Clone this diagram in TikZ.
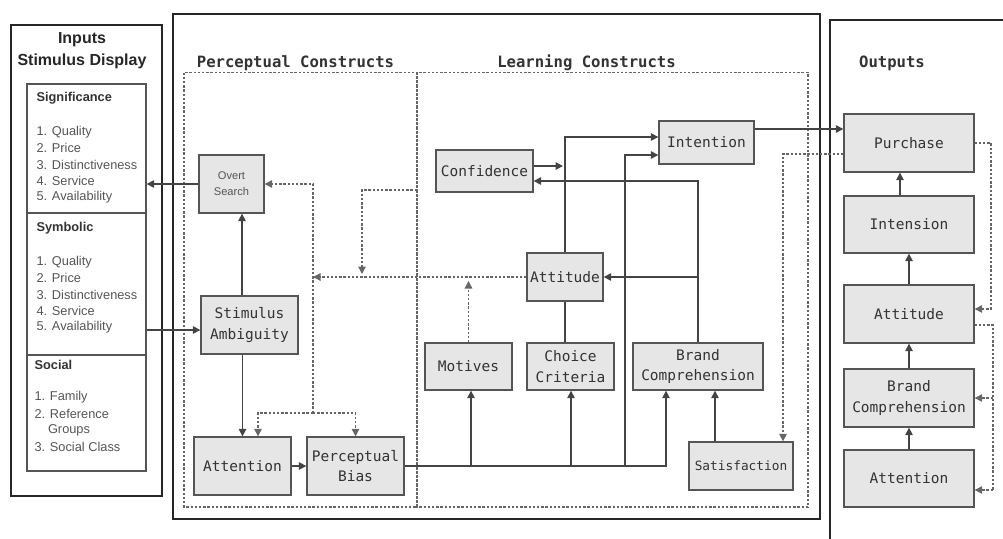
\documentclass[tikz,border=0pt]{standalone}
\usepackage{fontspec}
\setmainfont{Liberation Sans}
\newfontfamily\monof{DejaVu Sans Mono}
\usetikzlibrary{arrows.meta,calc}
\definecolor{boxfill}{HTML}{E6E6E6}
\definecolor{boxline}{HTML}{555555}
\definecolor{txt}{HTML}{333333}
\definecolor{itemtxt}{HTML}{555555}
\definecolor{lin}{HTML}{444444}
\definecolor{dotc}{HTML}{666666}
\begin{document}
\begin{tikzpicture}[x=1pt,y=-1pt,
  box/.style={draw=boxline, fill=boxfill, line width=1.3pt, inner sep=0pt, align=center, text=txt,
    font=\monof\fontsize{14.5}{20.5}\selectfont},
  obox/.style={box, minimum width=130pt},
  arr/.style={draw=lin, line width=1.4pt, -{Triangle[length=7.5pt,width=7.5pt]}},
  ln/.style={draw=lin, line width=1.4pt},
  dotl/.style={draw=dotc, line width=1.2pt, dash pattern=on 2.4pt off 1.8pt},
  darr/.style={dotl, -{Triangle[length=7.5pt,width=7.5pt]}},
  frame/.style={draw=black!85, line width=2pt},
  sechead/.style={anchor=base, text=txt, font=\monof\bfseries\fontsize{15.6}{18}\selectfont},
  ihead/.style={anchor=west, text=txt, font=\bfseries\fontsize{12.8}{15}\selectfont},
  item/.style={anchor=west, text=itemtxt, font=\fontsize{12.8}{15}\selectfont},
  ititle/.style={text=black!85, font=\bfseries\fontsize{16}{19}\selectfont}
]
\useasboundingbox (0,0) rectangle (1003,538);

% ---------- frames ----------
\node[frame, minimum width=151.3pt, minimum height=471pt, inner sep=0pt] (inputs) at (86.35,260.5) {};
\node[draw=boxline, line width=1.3pt, minimum width=119pt, minimum height=387pt, inner sep=0pt] (inner) at (86.5,277.5) {};
\draw[draw=boxline, line width=1.3pt] (inner.west |- 0,213) -- (inner.east |- 0,213);
\draw[draw=boxline, line width=1.3pt] (inner.west |- 0,355) -- (inner.east |- 0,355);
\draw[frame] (172.5,14) rectangle (819.5,518.5);
\draw[frame] (1006,20) -- (829.5,20) -- (829.5,545);
\draw[dotl] (184,72.5) rectangle (417,507);
\draw[dotl] (417,72.5) rectangle (808,507);

% ---------- headings ----------
\node[ititle] (tin) at (82,40) {Inputs};
\node[ititle] (tsd) at (82,61) {Stimulus Display};
\node[sechead] (hp) at (295.5,67.5) {Perceptual Constructs};
\node[sechead] (hl) at (586.5,67.5) {Learning Constructs};
\node[sechead] (ho) at (892,67.5) {Outputs};

% ---------- inputs lists ----------
\node[ihead] (sig) at (33,98) {Significance};
\node[item] (s1) at (33,132) {1. Quality};
\node[item] (s2) at (33,148.3) {2. Price};
\node[item] (s3) at (33,164.6) {3. Distinctiveness};
\node[item] (s4) at (33,180.9) {4. Service};
\node[item] (s5) at (33,197.2) {5. Availability};
\node[ihead] (sym) at (33,228) {Symbolic};
\node[item] (y1) at (33,262) {1. Quality};
\node[item] (y2) at (33,278.3) {2. Price};
\node[item] (y3) at (33,294.6) {3. Distinctiveness};
\node[item] (y4) at (33,310.9) {4. Service};
\node[item] (y5) at (33,327.2) {5. Availability};
\node[ihead] (soc) at (31,365) {Social};
\node[item] (c1) at (31,397) {1. Family};
\node[item] (c2) at (31,413.5) {2. Reference};
\node[item] (c2b) at (44.5,430) {Groups};
\node[item] (c3) at (31,446.5) {3. Social Class};

% ---------- perceptual nodes ----------
\node[box, minimum width=65pt, minimum height=58pt, text=itemtxt,
      font=\fontsize{11.1}{16}\selectfont] (overt) at (231.5,184) {Overt\\Search};
\node[box, minimum width=97pt, minimum height=58pt] (stim) at (249.5,325) {Stimulus\\Ambiguity};
\node[box, minimum width=97pt, minimum height=58pt] (att1) at (242.5,466) {Attention};
\node[box, minimum width=97pt, minimum height=58pt] (pbias) at (355.5,466) {Perceptual\\Bias};

% ---------- learning nodes ----------
\node[box, minimum width=97pt, minimum height=42pt] (conf) at (484.5,171) {Confidence};
\node[box, minimum width=95pt, minimum height=43pt] (intent) at (706.5,142.5) {Intention};
\node[box, minimum width=76pt, minimum height=48pt] (att2) at (565,277) {Attitude};
\node[box, minimum width=87pt, minimum height=47pt] (motives) at (468.5,366.5) {Motives};
\node[box, minimum width=87pt, minimum height=47pt] (choice) at (570.5,366.5) {Choice\\Criteria};
\node[box, minimum width=130pt, minimum height=47pt] (brand) at (698,366.5) {Brand\\Comprehension};
\node[box, minimum width=104pt, minimum height=48pt,
      font=\monof\fontsize{12.8}{16}\selectfont] (satis) at (741,466) {Satisfaction};

% ---------- output nodes ----------
\node[obox, minimum height=58pt] (purchase) at (909,143) {Purchase};
\node[obox, minimum height=57pt] (intension) at (909,224.5) {Intension};
\node[obox, minimum height=58pt] (oatt) at (909,314) {Attitude};
\node[obox, minimum height=58pt] (obrand) at (909,398) {Brand\\Comprehension};
\node[obox, minimum height=57pt] (oattn) at (909,478.5) {Attention};

% ---------- solid connectors ----------
\draw[arr] (overt.west) -- (overt.west -| inner.east);
\draw[arr] (inner.east |- 0,330) -- (stim.west |- 0,330);
\draw[arr] (stim.north -| 242,0) -- (overt.south -| 242,0);
\draw[arr] (stim.south -| att1.north) -- (att1.north);
\draw[arr] (att1.east) -- (pbias.west);
\draw[arr] (pbias.east) -| (brand.south -| 666,0);
\draw[arr] (pbias.east -| 471,0) -- (motives.south -| 471,0);
\draw[arr] (pbias.east -| 571,0) -- (choice.south -| 571,0);
\draw[arr] (pbias.east -| 625,0) |- (intent.west |- 0,155);
\draw[arr] (satis.north -| 715,0) -- (brand.south -| 715,0);
\draw[ln] (choice.north -| att2.south) -- (att2.south);
\draw[arr] (att2.north) |- (intent.west |- 0,137);
\draw[arr] (conf.east |- 0,166) -- (563,166);
\draw[arr] (brand.north) |- (conf.east |- 0,181);
\draw[arr] (brand.north |- att2.east) -- (att2.east);
\draw[arr] (intent.east |- 0,129) -- (purchase.west |- 0,129);
\draw[arr] (intension.north -| 900,0) -- (purchase.south -| 900,0);
\draw[arr] (oatt.north) -- (intension.south);
\draw[arr] (obrand.north) -- (oatt.south);
\draw[arr] (oattn.north) -- (obrand.south);

% ---------- dotted connectors ----------
\coordinate (vjoin) at (313,413);
\coordinate (divpt) at (417,190);
\draw[darr] (att2.west) -- (313,277);
\draw[darr] (motives.north) -- (motives.north |- 0,281);
\draw[darr] (vjoin) |- (overt.east);
\draw[darr] (vjoin) -| (att1.north -| 258,0);
\draw[darr] (vjoin) -| (pbias.north);
\draw[darr] (divpt) -| (362,274);
\draw[darr] (purchase.west |- 0,154) -| (satis.north -| 783,0);
\draw[darr] (purchase.east) -| (991,309) -- (oatt.east |- 0,309);
\draw[dotl] (oatt.east |- 0,325) -| (993,490);
\draw[darr] (993,490) -- (oattn.east |- 0,490);
\draw[darr] (993,398) -- (obrand.east);
\end{tikzpicture}
\end{document}
